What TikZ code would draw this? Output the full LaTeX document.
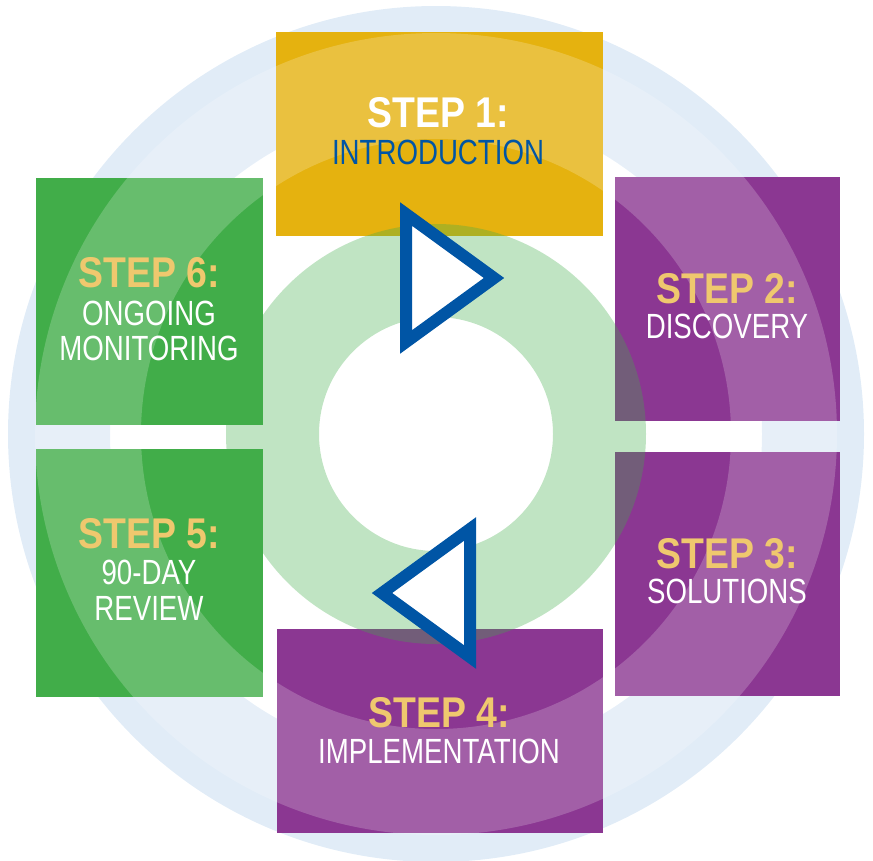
\documentclass[tikz,border=0pt]{standalone}
\usepackage{fontspec}
\newfontfamily\headfont[FakeStretch=0.87]{Liberation Sans}
\newfontfamily\descfont[FakeStretch=0.79]{Liberation Sans}

\definecolor{ringblue}{HTML}{E1ECF7}
\definecolor{ringgreen}{HTML}{41AD49}
\definecolor{stepgold}{HTML}{E5B20F}
\definecolor{steppurple}{HTML}{8B3792}
\definecolor{stepgreen}{HTML}{41AD49}
\definecolor{arrowblue}{HTML}{0055A5}
\definecolor{textgold}{HTML}{EFC86E}

\tikzset{
  headtext/.style={anchor=base, inner sep=0pt, text=textgold,
    font=\headfont\bfseries\fontsize{43}{44}\selectfont},
  desctext/.style={anchor=base, inner sep=0pt, text=white,
    font=\descfont\fontsize{35}{36}\selectfont},
  flowtri/.style={draw=arrowblue, fill=white, line width=12pt, line join=miter, miter limit=10}
}

\begin{document}
\begin{tikzpicture}[x=1pt,y=-1pt]
\useasboundingbox (0,0) rectangle (873,860);
\coordinate (c) at (436,434);

% outer light blue ring
\fill[ringblue, even odd rule] (c) circle (428) (c) circle (326);

% step boxes
\fill[stepgold]   (276,32) rectangle (603,236);
\fill[steppurple] (615,177) rectangle (840,421);
\fill[steppurple] (615,452) rectangle (840,696);
\fill[steppurple] (277,629) rectangle (603,833);
\fill[stepgreen]  (36,449) rectangle (263,697);
\fill[stepgreen]  (36,178) rectangle (263,425);

% inner green ring and light band
\fill[ringgreen, opacity=0.33, even odd rule] (c) circle (210) (c) circle (117);
\fill[white, opacity=0.2, even odd rule] (c) circle (401) (c) circle (295);

% direction triangles
\draw[flowtri] (406,214) -- (406,342) -- (494,278) -- cycle;
\draw[flowtri] (470,657) -- (470,529) -- (382,593) -- cycle;

% labels
\node[headtext, text=white] (h1) at (438,127) {STEP 1:};
\node[desctext, text=arrowblue] (d1) at (438,164) {INTRODUCTION};
\node[headtext] (h2) at (727,303) {STEP 2:};
\node[desctext] (d2) at (727,338) {DISCOVERY};
\node[headtext] (h3) at (727,568) {STEP 3:};
\node[desctext] (d3) at (727,603) {SOLUTIONS};
\node[headtext] (h4) at (439,727) {STEP 4:};
\node[desctext] (d4) at (439,763) {IMPLEMENTATION};
\node[headtext] (h5) at (149,548) {STEP 5:};
\node[desctext] (d5a) at (149,584) {90-DAY};
\node[desctext] (d5b) at (149,620) {REVIEW};
\node[headtext] (h6) at (149,287) {STEP 6:};
\node[desctext] (d6a) at (149,325) {ONGOING};
\node[desctext] (d6b) at (149,360) {MONITORING};

\end{tikzpicture}
\end{document}
